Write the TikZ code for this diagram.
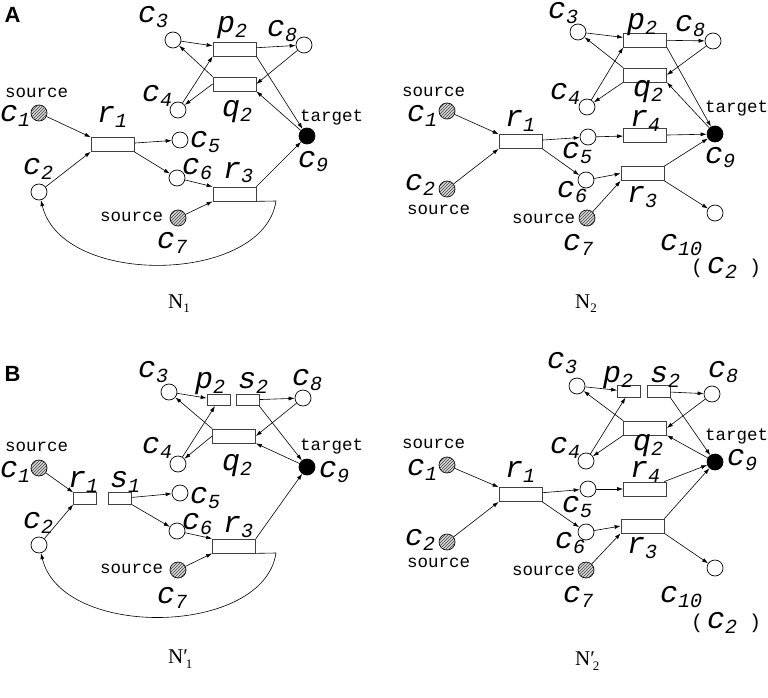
\documentclass[tikz,border=0pt]{standalone}
\usepackage{fontspec}
\setmonofont{Liberation Mono}
\setsansfont{Liberation Sans}
\newfontfamily\nfont{Liberation Serif}
\usetikzlibrary{arrows.meta,patterns,calc}
\newcommand{\labfont}{\fontsize{30}{30}\selectfont\ttfamily\itshape}
\newcommand{\lab}[2]{#1\raisebox{-5pt}{\fontsize{20}{20}\selectfont #2}}
\newcommand{\alt}[1]{{\upshape\fontsize{20}{20}\selectfont(\hspace{4pt}}\lab{c}{#1}{\upshape\fontsize{20}{20}\selectfont\ )}}
\newcommand{\net}[1]{N\raisebox{-4pt}{\fontsize{13}{13}\selectfont #1}}
\newcommand{\netp}[1]{N′\hspace{-2pt}\raisebox{-5pt}{\fontsize{13}{13}\selectfont #1}}
\tikzstyle{pl}=[draw, circle, minimum size=16pt, inner sep=0, line width=0.7pt]
\tikzstyle{src}=[pl, fill=gray!30, postaction={pattern=north east lines, pattern color=black!75}]
\tikzstyle{tgt}=[pl, fill=black]
\tikzstyle{tr}=[draw=black!75, rectangle, minimum width=43pt, minimum height=14pt, inner sep=0, line width=0.7pt]
\tikzstyle{trs}=[tr, minimum width=23pt, minimum height=11.5pt]
\tikzstyle{lb}=[anchor=base west, inner sep=0, font=\labfont]
\tikzstyle{tx}=[anchor=base west, inner sep=0, font=\fontsize{17.5}{17.5}\selectfont\ttfamily]
\tikzstyle{nl}=[anchor=base west, inner sep=0, font=\fontsize{21}{21}\selectfont\nfont]
\tikzstyle{hd}=[inner sep=0, font=\fontsize{22}{22}\selectfont\sffamily\bfseries]
\tikzstyle{ar}=[-{Latex[length=6pt,width=4pt]}, line width=0.6pt]

\begin{document}
\begin{tikzpicture}[x=1pt, y=-1pt]
    \useasboundingbox (0,0) rectangle (768,698);
    % A, N_1
    \node[hd] (la) at (12.5,15) {A};
    \node[src] (ac1) at (39,113) {};
    \node[pl] (ac2) at (39,192) {};
    \node[pl] (ac3) at (173,40) {};
    \node[pl] (ac4) at (178,110) {};
    \node[pl] (ac5) at (180,140) {};
    \node[pl] (ac6) at (177,178) {};
    \node[src] (ac7) at (178,218) {};
    \node[pl] (ac8) at (304,45) {};
    \node[tgt] (ac9) at (307,136) {};
    \node[tr] (ar1) at (112.5,144.5) {};
    \node[tr] (ap2) at (234.5,49) {};
    \node[tr] (aq2) at (234.5,84) {};
    \node[tr] (ar3) at (234.5,194) {};
    \coordinate (abend) at (276,201);
    \node[tx] (ac1s) at (5,98) {source};
    \node[lb] (ac1l) at (0,122) {\lab{c}{1}};
    \node[lb] (ac2l) at (23,175) {\lab{c}{2}};
    \node[lb] (ac3l) at (138,23) {\lab{c}{3}};
    \node[lb] (ac4l) at (142,102) {\lab{c}{4}};
    \node[lb] (ac5l) at (190,147) {\lab{c}{5}};
    \node[lb] (ac6l) at (182,175) {\lab{c}{6}};
    \node[tx] (ac7s) at (100,221) {source};
    \node[lb] (ac7l) at (157,248) {\lab{c}{7}};
    \node[lb] (ac8l) at (267,37) {\lab{c}{8}};
    \node[tx] (ac9s) at (300,122) {target};
    \node[lb] (ac9l) at (298,167) {\lab{c}{9}};
    \node[lb] (ar1l) at (97,123) {\lab{r}{1}};
    \node[lb] (ap2l) at (217,33) {\lab{p}{2}};
    \node[lb] (aq2l) at (222,117) {\lab{q}{2}};
    \node[lb] (ar3l) at (223,178) {\lab{r}{3}};
    \node[nl] (an) at (168,308) {\net{1}};
    \draw[ar] (ac3) -- (ap2);
    \draw[ar] (ap2) -- (ac8);
    \draw[ar] (ac8) -- (aq2.east);
    \draw[ar] (aq2.north west) -- (ac3);
    \draw[ar] (aq2.west) -- (ac4);
    \draw[ar] (ac4) -- (ap2.south west);
    \draw[ar] (ap2.south east) -- (ac9);
    \draw[ar] (ac9) -- (aq2.south east);
    \draw[ar] (ac1) -- (ar1.north west);
    \draw[ar] (ac2) -- (ar1.south west);
    \draw[ar] (ar1) -- (ac5);
    \draw[ar] (ar1.south east) -- (ac6);
    \draw[ar] (ac6) -- (ar3.north west);
    \draw[ar] (ac7) -- (ar3.south west);
    \draw[ar] (ar3.north east) -- (ac9);
    \draw[ar] (ar3.south east) -- (abend) .. controls (264,284) and (62,288) .. (ac2);

    % A, N_2
    \node[src] (bc1) at (447,111) {};
    \node[src] (bc2) at (447,189) {};
    \node[pl] (bc3) at (578,32) {};
    \node[pl] (bc4) at (587,107) {};
    \node[pl] (bc5) at (588,137) {};
    \node[pl] (bc6) at (586,180) {};
    \node[src] (bc7) at (587,218) {};
    \node[pl] (bc8) at (713,41) {};
    \node[tgt] (bc9) at (715,134) {};
    \node[pl] (bc10) at (715,213) {};
    \node[tr] (br1) at (520.5,141.5) {};
    \node[tr] (bp2) at (645,40) {};
    \node[tr] (bq2) at (645,75) {};
    \node[tr] (br4) at (645,135.5) {};
    \node[tr] (br3) at (642.5,173.5) {};
    \node[tx] (bc1s) at (402,97) {source};
    \node[lb] (bc1l) at (407,122) {\lab{c}{1}};
    \node[lb] (bc2l) at (405,190) {\lab{c}{2}};
    \node[tx] (bc2s) at (407,214) {source};
    \node[lb] (bc3l) at (548,19) {\lab{c}{3}};
    \node[lb] (bc4l) at (550,100) {\lab{c}{4}};
    \node[lb] (bc5l) at (562,158) {\lab{c}{5}};
    \node[lb] (bc6l) at (557,197) {\lab{c}{6}};
    \node[tx] (bc7s) at (512,223) {source};
    \node[lb] (bc7l) at (563,250) {\lab{c}{7}};
    \node[lb] (bc8l) at (675,32) {\lab{c}{8}};
    \node[tx] (bc9s) at (705,113) {target};
    \node[lb] (bc9l) at (705,163) {\lab{c}{9}};
    \node[lb] (bc10l) at (660,250) {\lab{c}{10}};
    \node[lb] (bc10a) at (691,273) {\alt{2}};
    \node[lb] (br1l) at (505,127) {\lab{r}{1}};
    \node[lb] (bp2l) at (627,30) {\lab{p}{2}};
    \node[lb] (bq2l) at (633,97) {\lab{q}{2}};
    \node[lb] (br4l) at (630,127) {\lab{r}{4}};
    \node[lb] (br3l) at (627,202) {\lab{r}{3}};
    \node[nl] (bn) at (575,308) {\net{2}};
    \draw[ar] (bc3) -- (bp2);
    \draw[ar] (bp2) -- (bc8);
    \draw[ar] (bc8) -- (bq2.east);
    \draw[ar] (bq2.north west) -- (bc3);
    \draw[ar] (bq2.south west) -- (bc4);
    \draw[ar] (bc4) -- (bp2.south west);
    \draw[ar] (bp2.south east) -- (bc9);
    \draw[ar] (bc9) -- (bq2.south east);
    \draw[ar] (bc1) -- (br1.north west);
    \draw[ar] (bc2) -- (br1.south west);
    \draw[ar] (br1) -- (bc5);
    \draw[ar] (br1.south east) -- (bc6);
    \draw[ar] (bc5) -- (br4);
    \draw[ar] (br4) -- (bc9);
    \draw[ar] (bc6) -- (br3.west);
    \draw[ar] (bc7) -- (br3.south west);
    \draw[ar] (br3.north east) -- (bc9);
    \draw[ar] (br3.south east) -- (bc10);

    % B, N'_1
    \node[hd] (lb) at (12.5,373.5) {B};
    \node[src] (cc1) at (39,468) {};
    \node[pl] (cc2) at (39,545) {};
    \node[pl] (cc3) at (169,392) {};
    \node[pl] (cc4) at (178,464) {};
    \node[pl] (cc5) at (180,493) {};
    \node[pl] (cc6) at (177,531) {};
    \node[src] (cc7) at (178,570) {};
    \node[pl] (cc8) at (303,398) {};
    \node[tgt] (cc9) at (307,467) {};
    \node[trs] (cr1) at (85,498.5) {};
    \node[trs] (cs1) at (120,498.5) {};
    \node[trs] (cp2) at (218.5,400) {};
    \node[trs] (cs2) at (247.5,400) {};
    \node[tr] (cq2) at (234,436) {};
    \node[tr] (cr3) at (234,546) {};
    \coordinate (cbend) at (276,553);
    \node[tx] (cc1s) at (5,451) {source};
    \node[lb] (cc1l) at (0,477) {\lab{c}{1}};
    \node[lb] (cc2l) at (23,528) {\lab{c}{2}};
    \node[lb] (cc3l) at (138,377) {\lab{c}{3}};
    \node[lb] (cc4l) at (142,453) {\lab{c}{4}};
    \node[lb] (cc5l) at (190,503) {\lab{c}{5}};
    \node[lb] (cc6l) at (182,529) {\lab{c}{6}};
    \node[tx] (cc7s) at (100,573) {source};
    \node[lb] (cc7l) at (157,603) {\lab{c}{7}};
    \node[lb] (cc8l) at (292,385) {\lab{c}{8}};
    \node[tx] (cc9s) at (300,450) {target};
    \node[lb] (cc9l) at (319,477) {\lab{c}{9}};
    \node[lb] (cr1l) at (68,487) {\lab{r}{1}};
    \node[lb] (cs1l) at (110,487) {\lab{s}{1}};
    \node[lb] (cp2l) at (195,388) {\lab{p}{2}};
    \node[lb] (cs2l) at (238,388) {\lab{s}{2}};
    \node[lb] (cq2l) at (222,470) {\lab{q}{2}};
    \node[lb] (cr3l) at (223,532) {\lab{r}{3}};
    \node[nl] (cn) at (168,663) {\netp{1}};
    \draw[ar] (cc3) -- (cp2);
    \draw[ar] (cs2) -- (cc8);
    \draw[ar] (cc8) -- (cq2.east);
    \draw[ar] (cq2.north west) -- (cc3);
    \draw[ar] (cq2.west) -- (cc4);
    \draw[ar] (cc4) -- (cp2.-120);
    \draw[ar] (cs2.south east) -- (cc9);
    \draw[ar] (cc9) -- (cq2.south east);
    \draw[ar] (cc1) -- (cr1.north west);
    \draw[ar] (cc2) -- (cr1.south west);
    \draw[ar] (cs1) -- (cc5);
    \draw[ar] (cs1.south east) -- (cc6);
    \draw[ar] (cc6) -- (cr3.north west);
    \draw[ar] (cc7) -- (cr3.south west);
    \draw[ar] (cr3.north east) -- (cc9);
    \draw[ar] (cr3.south east) -- (cbend) .. controls (264,636) and (62,640) .. (cc2);

    % B, N'_2
    \node[src] (dc1) at (447,465) {};
    \node[src] (dc2) at (447,542) {};
    \node[pl] (dc3) at (577,386) {};
    \node[pl] (dc4) at (586,461) {};
    \node[pl] (dc5) at (588,489) {};
    \node[pl] (dc6) at (586,532) {};
    \node[src] (dc7) at (586,570) {};
    \node[pl] (dc8) at (712,394) {};
    \node[tgt] (dc9) at (715,462) {};
    \node[pl] (dc10) at (715,568) {};
    \node[tr] (dr1) at (520.5,494.5) {};
    \node[trs] (dp2) at (629,391.5) {};
    \node[trs] (ds2) at (658.5,391.5) {};
    \node[tr] (dq2) at (645,428) {};
    \node[tr] (dr4) at (645,489) {};
    \node[tr] (dr3) at (642.5,526) {};
    \node[tx] (dc1s) at (402,448) {source};
    \node[lb] (dc1l) at (407,475) {\lab{c}{1}};
    \node[lb] (dc2l) at (405,545) {\lab{c}{2}};
    \node[tx] (dc2s) at (407,567) {source};
    \node[lb] (dc3l) at (547,368) {\lab{c}{3}};
    \node[lb] (dc4l) at (550,453) {\lab{c}{4}};
    \node[lb] (dc5l) at (562,512) {\lab{c}{5}};
    \node[lb] (dc6l) at (555,548) {\lab{c}{6}};
    \node[tx] (dc7s) at (512,575) {source};
    \node[lb] (dc7l) at (563,602) {\lab{c}{7}};
    \node[lb] (dc8l) at (708,377) {\lab{c}{8}};
    \node[tx] (dc9s) at (705,440) {target};
    \node[lb] (dc9l) at (727,465) {\lab{c}{9}};
    \node[lb] (dc10l) at (660,602) {\lab{c}{10}};
    \node[lb] (dc10a) at (691,628) {\alt{2}};
    \node[lb] (dr1l) at (505,477) {\lab{r}{1}};
    \node[lb] (dp2l) at (603,382) {\lab{p}{2}};
    \node[lb] (ds2l) at (650,382) {\lab{s}{2}};
    \node[lb] (dq2l) at (633,450) {\lab{q}{2}};
    \node[lb] (dr4l) at (630,477) {\lab{r}{4}};
    \node[lb] (dr3l) at (627,553) {\lab{r}{3}};
    \node[nl] (dn) at (575,665) {\netp{2}};
    \draw[ar] (dc3) -- (dp2);
    \draw[ar] (ds2) -- (dc8);
    \draw[ar] (dc8) -- (dq2.east);
    \draw[ar] (dq2.north west) -- (dc3);
    \draw[ar] (dq2.south west) -- (dc4);
    \draw[ar] (dc4) -- (dp2.-120);
    \draw[ar] (ds2.south east) -- (dc9);
    \draw[ar] (dc9) -- (dq2.south east);
    \draw[ar] (dc1) -- (dr1.north west);
    \draw[ar] (dc2) -- (dr1.south west);
    \draw[ar] (dr1) -- (dc5);
    \draw[ar] (dr1.south east) -- (dc6);
    \draw[ar] (dc5) -- (dr4);
    \draw[ar] (dr4) -- (dc9);
    \draw[ar] (dc6) -- (dr3.west);
    \draw[ar] (dc7) -- (dr3.south west);
    \draw[ar] (dr3.north east) -- (dc9);
    \draw[ar] (dr3.south east) -- (dc10);
\end{tikzpicture}
\end{document}
